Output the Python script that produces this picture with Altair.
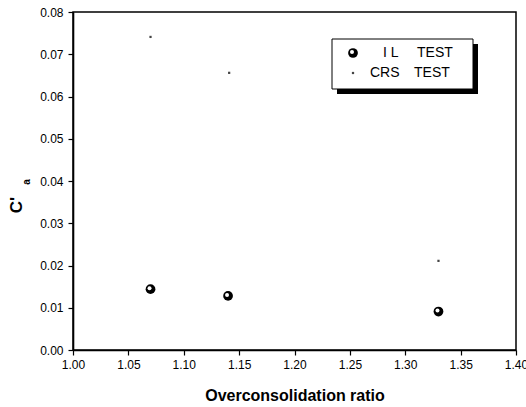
import altair as alt
import pandas as pd

# ---- data ----
il_ocr = [1.07, 1.14, 1.33]
il_c = [0.0144, 0.0128, 0.0091]
crs_ocr = [1.07, 1.141, 1.33]
crs_c = [0.0741, 0.0656, 0.0211]

x_ticks = [1.00, 1.025, 1.05, 1.075, 1.10, 1.125, 1.15, 1.175, 1.20,
           1.225, 1.25, 1.275, 1.30, 1.325, 1.35, 1.375, 1.40]
y_ticks = [0.000, 0.005, 0.010, 0.015, 0.020, 0.025, 0.030, 0.035, 0.040,
           0.045, 0.050, 0.055, 0.060, 0.065, 0.070, 0.075, 0.080]

legend_names = ["I  L", "CRS"]
legend_suffix = "TEST"
x_title = "Overconsolidation ratio"
y_title_main = "C'"
y_title_sub = "a"

W, H = 443, 338

il_df = pd.DataFrame({"ocr": il_ocr, "c": il_c})
crs_df = pd.DataFrame({"ocr": crs_ocr, "c": crs_c})
one = pd.DataFrame({"k": [0]})

FONT = "Liberation Sans"

x_major = "abs(datum.value*20 - round(datum.value*20)) < 0.001"
y_major = "abs(datum.value*100 - round(datum.value*100)) < 0.0001"

xscale = alt.Scale(domain=[1.0, 1.4], nice=False, zero=False)
yscale = alt.Scale(domain=[0.0, 0.08], nice=False, zero=False)

xaxis = alt.Axis(
    values=x_ticks,
    labelExpr=f"({x_major}) ? format(datum.value, '.2f') : ''",
    tickSize={"condition": {"test": x_major, "value": 5}, "value": 3},
    title=x_title, titleFont=FONT, titleFontSize=16, titleFontWeight="bold",
    titlePadding=17, labelPadding=4, grid=False, labelFlush=False,
    labelOverlap=False,
)
yaxis = alt.Axis(
    values=y_ticks,
    labelExpr=f"({y_major}) ? format(datum.value, '.2f') : ''",
    tickSize={"condition": {"test": y_major, "value": 5}, "value": 3},
    title=None, labelPadding=5, grid=False, labelFlush=False,
    labelOverlap=False,
)

il_black = alt.Chart(il_df).mark_point(
    filled=True, shape="circle", size=95, color="black", opacity=1
).encode(
    x=alt.X("ocr:Q", scale=xscale, axis=xaxis),
    y=alt.Y("c:Q", scale=yscale, axis=yaxis),
)
il_white = alt.Chart(il_df).mark_point(
    filled=True, shape="circle", size=16, color="white", opacity=1,
    xOffset=-1, yOffset=-1,
).encode(x="ocr:Q", y="c:Q")

crs = alt.Chart(crs_df).mark_square(size=5, color="#444444", opacity=1).encode(
    x="ocr:Q", y="c:Q"
)

# ---- legend (drawn by hand) ----
shadow = alt.Chart(one).mark_rect(color="black").encode(
    x=alt.value(264), x2=alt.value(405), y=alt.value(32), y2=alt.value(82)
)
box = alt.Chart(one).mark_rect(fill="white", stroke="black", strokeWidth=1).encode(
    x=alt.value(259), x2=alt.value(400), y=alt.value(27), y2=alt.value(77)
)
leg_il_b = alt.Chart(one).mark_point(filled=True, shape="circle", size=95,
                                     color="black", opacity=1).encode(
    x=alt.value(280), y=alt.value(41))
leg_il_w = alt.Chart(one).mark_point(filled=True, shape="circle", size=16,
                                     color="white", opacity=1,
                                     xOffset=-1, yOffset=-1).encode(
    x=alt.value(280), y=alt.value(41))
leg_crs = alt.Chart(one).mark_square(size=5, color="#444444", opacity=1).encode(
    x=alt.value(280), y=alt.value(61))

def txt(s, x, y, size=14, weight="normal", angle=0, align="left"):
    return alt.Chart(one).mark_text(
        text=s, font=FONT, fontSize=size, fontWeight=weight, color="black",
        align=align, baseline="middle", angle=angle,
    ).encode(x=alt.value(x), y=alt.value(y))

leg_t1 = txt(legend_names[0], 310, 41)
leg_t1b = txt(legend_suffix, 344, 41)
leg_t2 = txt(legend_names[1], 297, 61)
leg_t2b = txt(legend_suffix, 341, 61)

# ---- y title C'a ----
yt_main = txt(y_title_main, -56, 193, size=17, weight="bold", angle=270, align="center")
yt_sub = txt(y_title_sub, -46, 170, size=10, weight="bold", angle=270, align="center")

chart = alt.layer(
    il_black, il_white, crs, shadow, box, leg_il_b, leg_il_w, leg_crs,
    leg_t1, leg_t1b, leg_t2, leg_t2b, yt_main, yt_sub,
).properties(
    width=W, height=H,
    autosize=alt.AutoSizeParams(type="none"),
    padding={"left": 73, "top": 12, "right": 10, "bottom": 57},
    background="white",
).configure_view(
    stroke="black", strokeWidth=1.5
).configure_axis(
    domainColor="black", domainWidth=1.6, tickColor="black", tickWidth=1.2,
    labelFont=FONT, labelFontSize=12, labelColor="black", titleColor="black",
)

chart.save("out.html", embed_options={"renderer": "svg", "actions": False})
